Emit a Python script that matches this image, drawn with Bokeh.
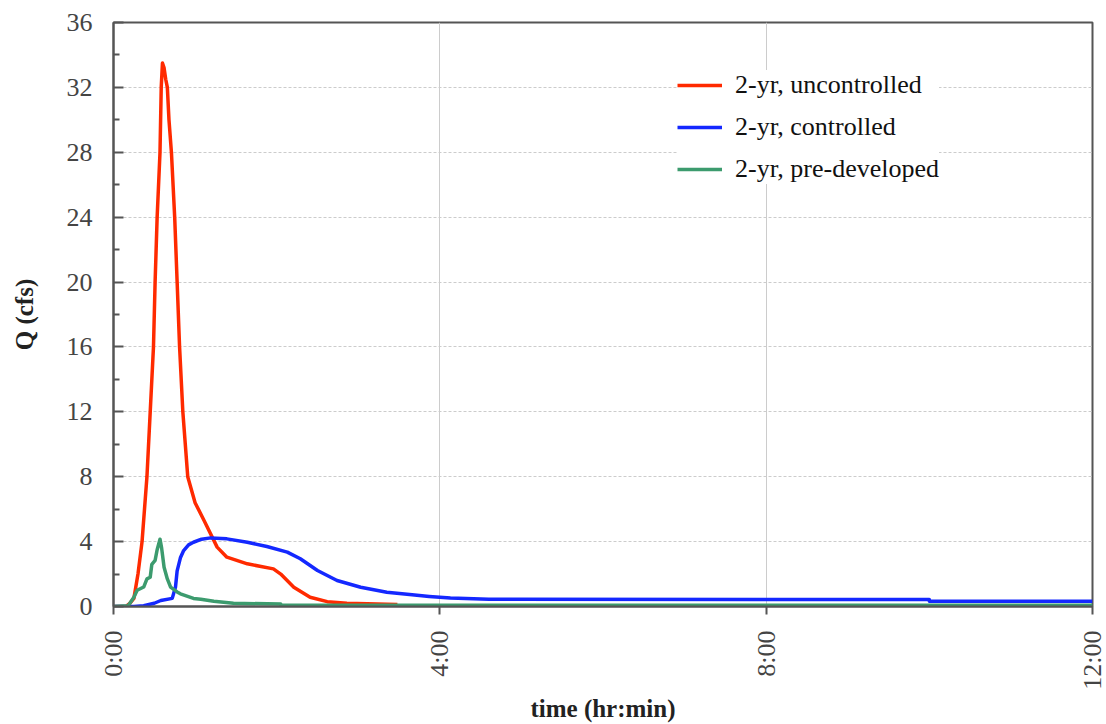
import math
from bokeh.plotting import figure
from bokeh.models import FixedTicker, Legend, LegendItem, Range1d
from bokeh.embed import file_html
from bokeh.resources import INLINE

# ---- data (time in hours, Q in cfs) ----
uncontrolled_t = [0, 0.15, 0.2, 0.25, 0.3, 0.35, 0.41, 0.45, 0.49, 0.51, 0.535, 0.57, 0.585,
                  0.60, 0.62, 0.64, 0.66, 0.68, 0.71, 0.75, 0.78, 0.81, 0.85, 0.91, 1.0,
                  1.11, 1.27, 1.39, 1.64, 1.96, 2.05, 2.21, 2.41, 2.62, 2.86, 3.48]
uncontrolled_q = [0, 0, 0.2, 0.5, 2.0, 4.0, 8.0, 12.0, 16.0, 20.0, 24.0, 28.0, 32.0,
                  33.5, 33.2, 32.5, 32.0, 30.0, 28.0, 24.0, 20.0, 16.0, 12.0, 8.0, 6.4,
                  5.3, 3.66, 3.04, 2.63, 2.32, 2.0, 1.19, 0.57, 0.3, 0.2, 0.12]

controlled_t = [0, 0.25, 0.37, 0.5, 0.58, 0.72, 0.76, 0.78, 0.82, 0.86, 0.92, 0.98, 1.08,
                1.19, 1.39, 1.64, 1.88, 2.13, 2.29, 2.5, 2.74, 3.03, 3.35, 3.66, 3.87,
                4.13, 4.6, 10.0, 10.0, 12.0]
controlled_q = [0, 0, 0.05, 0.2, 0.37, 0.5, 1.2, 2.2, 3.0, 3.45, 3.8, 3.96, 4.15,
                4.23, 4.17, 3.96, 3.70, 3.35, 2.94, 2.22, 1.6, 1.19, 0.88, 0.72, 0.62,
                0.52, 0.45, 0.43, 0.33, 0.33]

predeveloped_t = [0, 0.18, 0.25, 0.29, 0.37, 0.41, 0.45, 0.47, 0.51, 0.535, 0.57, 0.59,
                  0.62, 0.66, 0.70, 0.78, 0.82, 0.98, 1.07, 1.23, 1.47, 2.05, 2.05, 12.0]
predeveloped_q = [0, 0.05, 0.57, 1.0, 1.2, 1.7, 1.8, 2.6, 2.84, 3.5, 4.15, 3.6,
                  2.42, 1.7, 1.19, 0.9, 0.78, 0.5, 0.45, 0.33, 0.2, 0.15, 0.08, 0.08]

series_names = ["2-yr, uncontrolled", "2-yr, controlled", "2-yr, pre-developed"]
series_colors = ["#FF2A00", "#1428FF", "#3C9B6E"]

x_tick_values = [0, 4, 8, 12]
x_tick_labels = ["0:00", "4:00", "8:00", "12:00"]
y_tick_values = [0, 4, 8, 12, 16, 20, 24, 28, 32, 36]
y_minor_values = [2, 6, 10, 14, 18, 22, 26, 30, 34]

SERIF = "Liberation Serif"

p = figure(width=1106, height=724, output_backend="svg", toolbar_location=None,
           x_range=Range1d(0, 12), y_range=Range1d(0, 36),
           min_border_left=113, min_border_right=14, min_border_top=22, min_border_bottom=118)

p.outline_line_color = "#555555"
p.outline_line_width = 2
p.background_fill_color = "white"
p.border_fill_color = "white"

# axes
xa = p.xaxis[0]
xa.ticker = FixedTicker(ticks=x_tick_values)
xa.major_label_overrides = {v: l for v, l in zip(x_tick_values, x_tick_labels)}
xa.major_label_orientation = math.pi / 2
xa.major_tick_out = 8
xa.major_tick_in = 0
xa.minor_tick_line_color = None
xa.major_label_standoff = 16
xa.axis_label = "time (hr:min)"
xa.axis_label_text_font = SERIF
xa.axis_label_text_font_style = "bold"
xa.axis_label_text_font_size = "25px"
xa.axis_label_text_color = "#222222"
xa.axis_label_standoff = 2

ya = p.yaxis[0]
ya.ticker = FixedTicker(ticks=y_tick_values, minor_ticks=y_minor_values)
ya.major_tick_in = 10
ya.major_tick_out = 0
ya.minor_tick_in = 6
ya.minor_tick_out = 0
ya.major_label_standoff = 21
ya.axis_label = "Q (cfs)"
ya.axis_label_text_font = SERIF
ya.axis_label_text_font_style = "bold"
ya.axis_label_text_font_size = "25px"
ya.axis_label_text_color = "#222222"
ya.axis_label_standoff = 26

for ax in (xa, ya):
    ax.axis_line_color = "#555555"
    ax.axis_line_width = 2
    ax.major_tick_line_color = "#555555"
    ax.major_tick_line_width = 2
    ax.minor_tick_line_width = 2
    ax.major_label_text_font = SERIF
    ax.major_label_text_font_size = "26px"
    ax.major_label_text_color = "#444444"
ya.minor_tick_line_color = "#555555"

p.xgrid.ticker = FixedTicker(ticks=x_tick_values)
p.xgrid.grid_line_color = "#cccccc"
p.xgrid.grid_line_width = 1
p.ygrid.ticker = FixedTicker(ticks=y_tick_values)
p.ygrid.grid_line_color = "#cccccc"
p.ygrid.grid_line_width = 1
p.ygrid.grid_line_dash = "3 2"

ts = [uncontrolled_t, controlled_t, predeveloped_t]
qs = [uncontrolled_q, controlled_q, predeveloped_q]
renderers = []
for t, q, c in zip(ts, qs, series_colors):
    r = p.line(t, q, line_color=c, line_width=3.5, line_join="round")
    renderers.append(r)

legend = Legend(items=[LegendItem(label=n, renderers=[r]) for n, r in zip(series_names, renderers)],
                location=(564, 422))
legend.label_text_font = SERIF
legend.label_text_font_size = "26px"
legend.label_text_color = "#111111"
legend.glyph_width = 45
legend.glyph_height = 30
legend.label_height = 30
legend.label_standoff = 13
legend.spacing = 12
legend.padding = 10
legend.margin = 0
legend.border_line_color = None
legend.background_fill_color = "white"
legend.background_fill_alpha = 1.0
p.add_layout(legend, "center")

open("out.html", "w").write(file_html(p, INLINE))
